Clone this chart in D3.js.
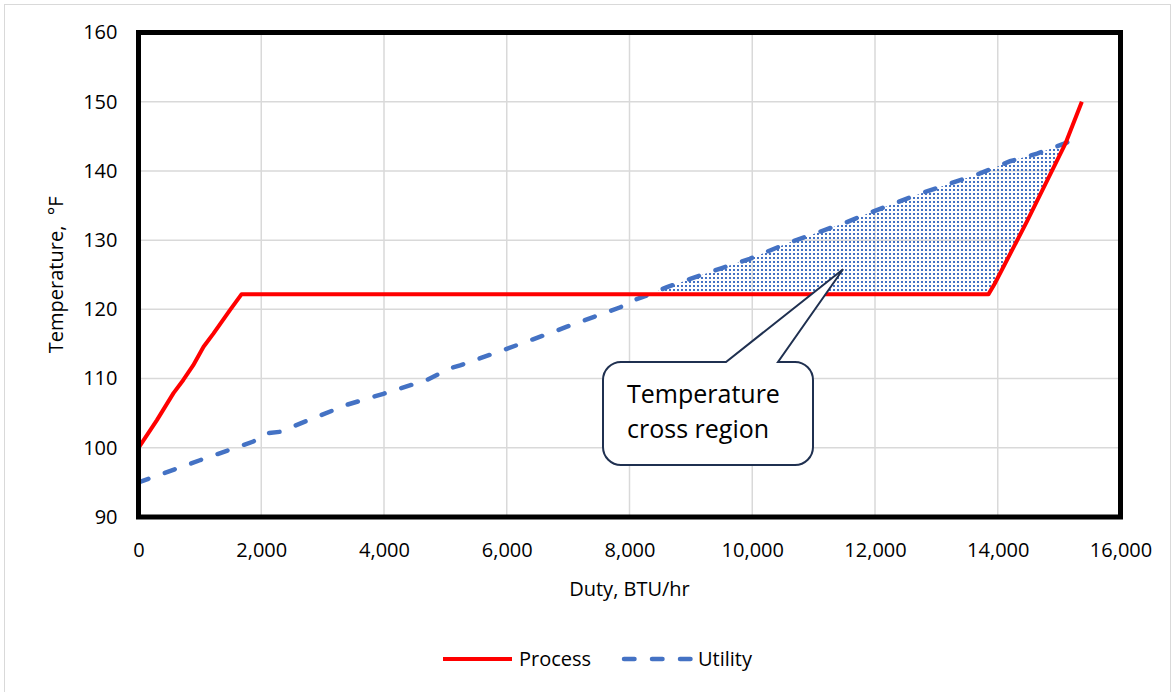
<!DOCTYPE html>
<html>
<head>
<meta charset="utf-8">
<script src="https://cdn.jsdelivr.net/npm/d3@7"></script>
<style>
  html, body { margin: 0; padding: 0; background: #ffffff; }
  svg { display: block; font-family: "Open Sans", "Noto Sans", sans-serif; }
</style>
</head>
<body>
<svg id="chart" width="1175" height="692"></svg>
<script>
// Process stream: heating curve (duty in BTU/hr, temperature in °F)
const processDuty = [0, 300, 570, 730, 890, 1060, 1220, 1490, 1680, 13850, 13950, 14470, 15100, 15370];
const processTemp = [100, 104, 107.9, 109.8, 111.9, 114.6, 116.5, 119.9, 122.2, 122.2, 123.7, 132.6, 143.9, 150];

// Utility stream: cooling curve
const utilityDuty = [0, 1000, 1870, 2090, 2300, 3390, 3990, 4700, 5080, 5240, 6000, 6810, 6980, 7850, 8060, 8280, 8610, 8990, 9480, 9960, 10560, 11540, 11870, 12730, 13700, 14040, 14200, 14640, 15070, 15370];
const utilityTemp = [95, 98.2, 100.9, 102.1, 102.3, 106.2, 107.8, 109.8, 111.5, 111.9, 114.3, 116.9, 117.5, 120.3, 121.3, 122.0, 123.2, 124.4, 125.9, 127.3, 129.5, 132.6, 133.8, 136.7, 139.6, 140.8, 141.4, 142.5, 143.9, 145];

// Axis ticks
const xTicks = [0, 2000, 4000, 6000, 8000, 10000, 12000, 14000, 16000];
const yTicks = [90, 100, 110, 120, 130, 140, 150, 160];

// Legend entries
const seriesNames = ["Process", "Utility"];

// Callout text and the point it refers to
const calloutLines = ["Temperature", "cross region"];
const calloutTarget = [11480, 125.8];

const svg = d3.select("#chart");
const plot = { left: 138.5, right: 1120.5, top: 32.5, bottom: 517 };

const x = d3.scaleLinear().domain([0, 16000]).range([plot.left, plot.right]);
const y = d3.scaleLinear().domain([90, 160]).range([plot.bottom, plot.top]);

const RED = "#ff0000", BLUE = "#4472c4", GRID = "#d9d9d9";

// Outer chart border
svg.append("rect")
  .attr("x", 4.5).attr("y", 4.5).attr("width", 1166).attr("height", 720)
  .attr("fill", "none").attr("stroke", GRID).attr("stroke-width", 1);

// Dotted fill pattern for the cross region
const defs = svg.append("defs");
const pat = defs.append("pattern")
  .attr("id", "dots").attr("patternUnits", "userSpaceOnUse")
  .attr("width", 4).attr("height", 4);
pat.append("rect").attr("x", 1).attr("y", 1).attr("width", 2).attr("height", 2).attr("fill", BLUE);

// Gridlines
svg.append("g").selectAll("line").data(xTicks).join("line")
  .attr("x1", d => x(d)).attr("x2", d => x(d))
  .attr("y1", plot.top).attr("y2", plot.bottom)
  .attr("stroke", GRID).attr("stroke-width", 1.5);
svg.append("g").selectAll("line").data(yTicks).join("line")
  .attr("x1", plot.left).attr("x2", plot.right)
  .attr("y1", d => y(d)).attr("y2", d => y(d))
  .attr("stroke", GRID).attr("stroke-width", 1.5);

// Region where utility temperature exceeds process temperature
function interp(xs, ys, v) {
  if (v <= xs[0]) return ys[0];
  for (let i = 1; i < xs.length; i++) {
    if (v <= xs[i]) {
      const t = (v - xs[i - 1]) / (xs[i] - xs[i - 1]);
      return ys[i - 1] + t * (ys[i] - ys[i - 1]);
    }
  }
  return ys[ys.length - 1];
}
const maxDuty = Math.min(d3.max(processDuty), d3.max(utilityDuty));
let grid = Array.from(new Set(processDuty.concat(utilityDuty))).filter(d => d <= maxDuty).sort((a, b) => a - b);
const crossPts = [];
for (let i = 1; i < grid.length; i++) {
  const a = grid[i - 1], b = grid[i];
  const da = interp(utilityDuty, utilityTemp, a) - interp(processDuty, processTemp, a);
  const db = interp(utilityDuty, utilityTemp, b) - interp(processDuty, processTemp, b);
  if (da * db < 0) crossPts.push(a + (b - a) * da / (da - db));
}
grid = grid.concat(crossPts).sort((a, b) => a - b);
const fillData = grid.map(d => {
  const p = interp(processDuty, processTemp, d);
  const u = interp(utilityDuty, utilityTemp, d);
  return { d, p, u: Math.max(u, p) };
});
svg.append("path")
  .datum(fillData)
  .attr("fill", "url(#dots)")
  .attr("d", d3.area().x(v => x(v.d)).y0(v => y(v.p)).y1(v => y(v.u)));

// Curves
const line = d3.line().x(v => x(v[0])).y(v => y(v[1]));
svg.append("path")
  .datum(utilityDuty.map((d, i) => [d, utilityTemp[i]]))
  .attr("fill", "none").attr("stroke", BLUE).attr("stroke-width", 4.5)
  .attr("stroke-linecap", "round").attr("stroke-dasharray", "10.5,17.5")
  .attr("d", line);
svg.append("path")
  .datum(processDuty.map((d, i) => [d, processTemp[i]]))
  .attr("fill", "none").attr("stroke", RED).attr("stroke-width", 4)
  .attr("stroke-linejoin", "round")
  .attr("d", line);

// Plot frame
svg.append("rect")
  .attr("x", plot.left).attr("y", plot.top)
  .attr("width", plot.right - plot.left).attr("height", plot.bottom - plot.top)
  .attr("fill", "none").attr("stroke", "#000").attr("stroke-width", 5);

// Axes
const xAxis = svg.append("g")
  .attr("transform", `translate(0,${plot.bottom})`)
  .call(d3.axisBottom(x).tickValues(xTicks).tickFormat(d3.format(",")).tickSize(0).tickPadding(26));
xAxis.select(".domain").remove();
xAxis.selectAll("text").attr("font-size", 20).attr("fill", "#000").attr("font-family", "Open Sans");

const yAxis = svg.append("g")
  .attr("transform", `translate(${plot.left},0)`)
  .call(d3.axisLeft(y).tickValues(yTicks).tickSize(0).tickPadding(21));
yAxis.select(".domain").remove();
yAxis.selectAll("text").attr("font-size", 20).attr("fill", "#000").attr("font-family", "Open Sans");

// Axis titles
svg.append("text")
  .attr("x", (plot.left + plot.right) / 2).attr("y", 596)
  .attr("text-anchor", "middle").attr("font-size", 20).attr("fill", "#000")
  .text("Duty, BTU/hr");
svg.append("text")
  .attr("transform", `translate(63,${(plot.top + plot.bottom) / 2}) rotate(-90)`)
  .attr("text-anchor", "middle").attr("font-size", 20).attr("fill", "#000")
  .style("white-space", "pre")
  .text("Temperature,  °F");

// Callout bubble
const tip = [x(calloutTarget[0]), y(calloutTarget[1])];
const box = { x0: 603, y0: 362, x1: 813, y1: 465, r: 18 };
const baseL = 726, baseR = 778;
const bubble = d3.path();
bubble.moveTo(box.x0 + box.r, box.y0);
bubble.lineTo(baseL, box.y0);
bubble.lineTo(tip[0], tip[1]);
bubble.lineTo(baseR, box.y0);
bubble.lineTo(box.x1 - box.r, box.y0);
bubble.arcTo(box.x1, box.y0, box.x1, box.y0 + box.r, box.r);
bubble.lineTo(box.x1, box.y1 - box.r);
bubble.arcTo(box.x1, box.y1, box.x1 - box.r, box.y1, box.r);
bubble.lineTo(box.x0 + box.r, box.y1);
bubble.arcTo(box.x0, box.y1, box.x0, box.y1 - box.r, box.r);
bubble.lineTo(box.x0, box.y0 + box.r);
bubble.arcTo(box.x0, box.y0, box.x0 + box.r, box.y0, box.r);
bubble.closePath();
svg.append("path")
  .attr("d", bubble.toString())
  .attr("fill", "#fff").attr("stroke", "#1f3050").attr("stroke-width", 2)
  .attr("stroke-linejoin", "miter");
svg.append("g").selectAll("text").data(calloutLines).join("text")
  .attr("x", 627).attr("y", (d, i) => 403 + i * 35)
  .attr("font-size", 25).attr("fill", "#000")
  .text(d => d);

// Legend
const legend = svg.append("g");
const legendItems = [
  { name: seriesNames[0], color: RED, x0: 443, x1: 512, tx: 519, dash: null, w: 4 },
  { name: seriesNames[1], color: BLUE, x0: 624, x1: 692, tx: 698, dash: "10.5,17.5", w: 4.5 }
];
legendItems.forEach(it => {
  legend.append("line")
    .attr("x1", it.x0).attr("x2", it.x1).attr("y1", 659).attr("y2", 659)
    .attr("stroke", it.color).attr("stroke-width", it.w)
    .attr("stroke-linecap", it.dash ? "round" : "butt")
    .attr("stroke-dasharray", it.dash);
  legend.append("text")
    .attr("x", it.tx).attr("y", 666)
    .attr("font-size", 20).attr("fill", "#000")
    .text(it.name);
});
</script>
</body>
</html>
